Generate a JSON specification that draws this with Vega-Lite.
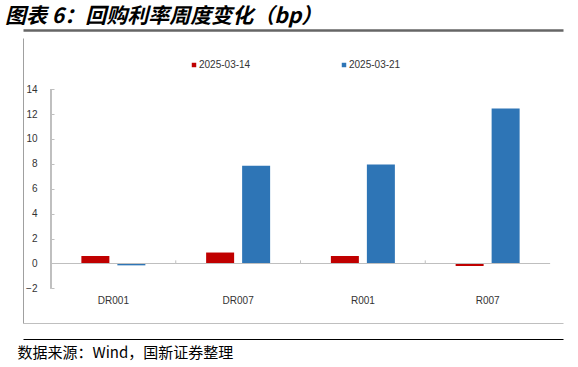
{
  "$schema": "https://vega.github.io/schema/vega-lite/v6.json",
  "autosize": "none",
  "width": 540,
  "height": 285,
  "padding": {"left": 23, "top": 38, "right": 15, "bottom": 44},
  "background": "white",
  "config": {"view": {"stroke": null}, "font": "Liberation Sans"},
  "title": {
    "text": "图表 6：回购利率周度变化（bp）",
    "font": "Noto Sans CJK SC",
    "fontSize": 21,
    "fontWeight": "bold",
    "fontStyle": "italic",
    "color": "#000000",
    "anchor": "start",
    "frame": "group",
    "dx": -18,
    "offset": 3
  },
  "data": {
    "values": [
      {"category": "DR001", "date": "2025-03-14", "value": 0.6},
      {"category": "DR001", "date": "2025-03-21", "value": -0.15},
      {"category": "DR007", "date": "2025-03-14", "value": 0.88},
      {"category": "DR007", "date": "2025-03-21", "value": 7.85},
      {"category": "R001", "date": "2025-03-14", "value": 0.6},
      {"category": "R001", "date": "2025-03-21", "value": 7.95},
      {"category": "R007", "date": "2025-03-14", "value": -0.2},
      {"category": "R007", "date": "2025-03-21", "value": 12.45}
    ]
  },
  "resolve": {"axis": {"x": "independent", "y": "independent"}},
  "layer": [
    {
      "mark": {"type": "bar"},
      "encoding": {
        "x": {
          "field": "category",
          "type": "nominal",
          "scale": {"paddingInner": 0, "paddingOuter": 0.1643, "align": 0.683},
          "axis": {
            "orient": "bottom",
            "domainColor": "#bfbfbf",
            "domainWidth": 1,
            "ticks": false,
            "tickSize": 0,
            "labelPadding": -28,
            "labelFont": "Liberation Sans",
            "labelFontSize": 10,
            "labelColor": "#333333",
            "labelAngle": 0,
            "title": "数据来源：Wind，国新证券整理",
            "titleFont": "Noto Sans CJK SC",
            "titleFontSize": 15,
            "titleFontWeight": "normal",
            "titleColor": "#000000",
            "titleAnchor": "start",
            "titleAlign": "left",
            "titleBaseline": "middle",
            "titleX": -6,
            "titleY": 29
          }
        },
        "xOffset": {
          "field": "date",
          "type": "nominal",
          "scale": {"paddingInner": 0.2222, "paddingOuter": 0.8438}
        },
        "y": {
          "field": "value",
          "type": "quantitative",
          "scale": {"domain": [-4.78, 18.11], "nice": false, "zero": false},
          "axis": {
            "orient": "left",
            "offset": -28,
            "values": [-2, 0, 2, 4, 6, 8, 10, 12, 14],
            "domain": false,
            "ticks": true,
            "tickSize": -3,
            "tickColor": "#bfbfbf",
            "grid": false,
            "labels": true,
            "labelOverlap": false,
            "labelPadding": 17,
            "labelFont": "Liberation Sans",
            "labelFontSize": 10,
            "labelColor": "#333333",
            "title": null
          }
        },
        "color": {
          "field": "date",
          "type": "nominal",
          "scale": {"domain": ["2025-03-14", "2025-03-21"], "range": ["#C00000", "#2E75B6"]},
          "legend": {
            "orient": "none",
            "direction": "horizontal",
            "legendX": 166,
            "legendY": 22,
            "title": null,
            "symbolType": "square",
            "symbolSize": 20,
            "symbolStrokeWidth": 0,
            "labelOffset": 0,
            "labelFont": "Liberation Sans",
            "labelFontSize": 10,
            "labelColor": "#333333",
            "columnPadding": 88,
            "padding": 0
          }
        }
      }
    },
    {
      "transform": [{"filter": {"field": "date", "equal": "2025-03-14"}}],
      "mark": {"type": "tick", "color": "#bfbfbf", "thickness": 1, "size": 125, "opacity": 1},
      "encoding": {
        "x": {
          "field": "category",
          "type": "nominal",
          "axis": {
            "orient": "bottom",
            "offset": 16,
            "domain": true,
            "domainColor": "#000000",
            "domainWidth": 1,
            "labels": false,
            "ticks": false,
            "title": null
          }
        },
        "y": {"datum": 0, "type": "quantitative", "axis": null}
      }
    },
    {
      "transform": [{"filter": {"field": "date", "equal": "2025-03-14"}}],
      "mark": {"type": "rule", "color": "#bfbfbf", "strokeWidth": 1},
      "encoding": {
        "x": {
          "field": "category",
          "type": "nominal",
          "bandPosition": 0,
          "axis": {
            "orient": "top",
            "offset": 8,
            "domain": true,
            "domainColor": "#666666",
            "domainWidth": 2.5,
            "labels": false,
            "ticks": false,
            "title": null
          }
        },
        "y": {"datum": 0, "type": "quantitative", "axis": null},
        "y2": {"datum": 0.25}
      }
    },
    {
      "mark": {"type": "rule", "color": "#bfbfbf", "strokeWidth": 1},
      "encoding": {
        "x": {"datum": "DR001", "type": "nominal", "bandPosition": 0, "axis": null},
        "y": {
          "datum": -2,
          "type": "quantitative",
          "axis": {
            "orient": "left",
            "offset": 0,
            "domain": true,
            "domainColor": "#a0a0a0",
            "domainWidth": 1,
            "labels": false,
            "ticks": false,
            "grid": false,
            "title": null
          }
        },
        "y2": {"datum": 14}
      }
    }
  ]
}
